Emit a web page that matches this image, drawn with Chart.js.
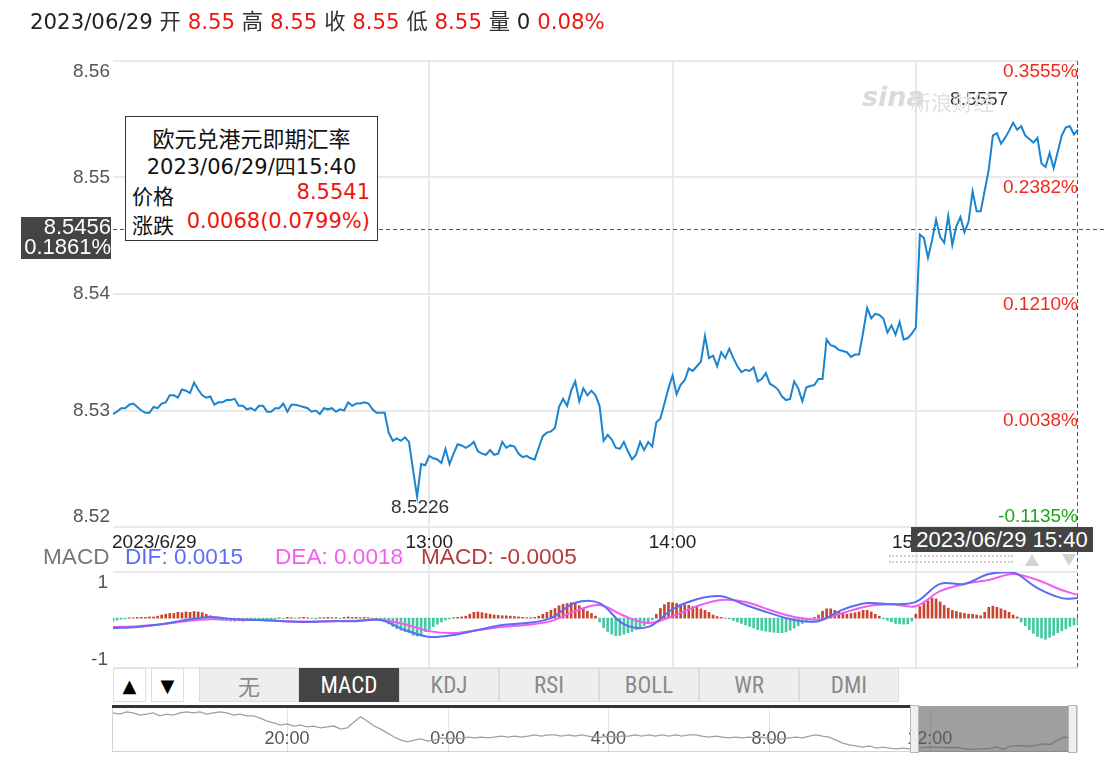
<!DOCTYPE html>
<html><head><meta charset="utf-8">
<script src="https://cdn.jsdelivr.net/npm/chart.js@4.4.0/dist/chart.umd.min.js"></script>
<style>
html,body{margin:0;padding:0;background:#fff;}
body{width:1106px;height:760px;position:relative;overflow:hidden;font-family:"DejaVu Sans","Noto Sans CJK SC",sans-serif;}
canvas{position:absolute;left:0;top:0;}
.abs{position:absolute;white-space:nowrap;}
#header{left:30px;top:9px;font-size:21.3px;line-height:26px;color:#222;}
#header .r{color:#f0140e;}
#header .c{color:#333;}
#tip{left:125px;top:116px;width:251px;height:123px;border:1px solid #333;background:#fff;font-size:21px;color:#111;z-index:5;}
#tip .t{position:absolute;left:0;width:100%;text-align:center;}
#tip .l{position:absolute;left:6px;}
#tip .v{position:absolute;right:7px;color:#f0140e;}
.darkbox{background:#444;color:#fff;font-family:"Liberation Sans",Arial,sans-serif;z-index:5;}
#curBox{left:21px;top:217px;width:90px;height:42px;font-size:22px;line-height:20px;text-align:right;}
#timeBox{left:911px;top:527px;width:182px;height:25px;font-size:22px;line-height:25px;text-align:center;}
.leg{top:544px;font-family:"Liberation Sans",Arial,sans-serif;font-size:22.6px;line-height:26px;z-index:4;}
#tabs{left:113px;top:668px;height:35px;z-index:4;font-family:"Liberation Sans Narrow","Roboto Condensed","Liberation Sans",sans-serif;}
.tb{position:absolute;top:0;height:34px;line-height:34px;text-align:center;box-sizing:border-box;}
.arrow{background:#fff;border:1px solid #ddd;font-size:18px;color:#000;width:33px;font-family:"DejaVu Sans",sans-serif;}
.tab{background:#eeeeee;border:1px solid #dcdcdc;width:100px;font-size:23px;color:#8a8a8a;}
.tab.sel{background:#444;color:#fff;border-color:#444;}
#navBox{left:112px;top:706px;width:964px;height:45px;border:1px solid #d3d3d3;border-top:none;}
#navTop{left:112px;top:705px;width:799px;height:3px;background:#333;z-index:4;}
#navSel{left:918px;top:706px;width:150px;height:46px;background:rgba(95,95,95,0.6);z-index:4;}
.handle{top:705px;width:7px;height:46px;background:#efefef;border:1px solid #b5b5b5;z-index:4;}
#wm1{left:862px;top:81px;font-family:"DejaVu Sans",sans-serif;font-style:italic;font-weight:bold;font-size:27px;color:#dadada;}
#wm2{left:910px;top:86px;font-size:21px;color:#e0e0e0;font-family:"Noto Sans CJK SC",sans-serif;}
.dots{left:889px;top:555px;width:124px;height:4px;border-top:2px dotted #d0d0d0;border-bottom:2px dotted #d0d0d0;}
.triU{left:1025px;top:554px;width:0;height:0;border-left:7px solid transparent;border-right:7px solid transparent;border-bottom:12px solid #d3d3d3;}
.triD{left:1062px;top:554px;width:0;height:0;border-left:7px solid transparent;border-right:7px solid transparent;border-top:12px solid #d3d3d3;}
</style>
</head><body>
<canvas id="mainC" width="1106" height="760"></canvas>
<canvas id="macdC" width="1106" height="760"></canvas>
<canvas id="navC" width="1106" height="760"></canvas>

<div id="header" class="abs">2023/06/29 <span class="c">开</span> <span class="r">8.55</span> <span class="c">高</span> <span class="r">8.55</span> <span class="c">收</span> <span class="r">8.55</span> <span class="c">低</span> <span class="r">8.55</span> <span class="c">量</span> 0 <span class="r">0.08%</span></div>
<div id="wm1" class="abs">sina</div>
<div id="wm2" class="abs">新浪财经</div>

<div id="tip" class="abs">
  <div class="t" style="top:4px;font-size:22px;">欧元兑港元即期汇率</div>
  <div class="t" style="top:33px;">2023/06/29/四15:40</div>
  <div class="l" style="top:63px;">价格</div><div class="v" style="top:63px;">8.5541</div>
  <div class="l" style="top:92px;">涨跌</div><div class="v" style="top:92px;">0.0068(0.0799%)</div>
</div>
<div id="curBox" class="abs darkbox">8.5456<br>0.1861%</div>
<div id="timeBox" class="abs darkbox">2023/06/29 15:40</div>
<div class="abs dots"></div>
<div class="abs triU"></div>
<div class="abs triD"></div>

<div class="abs leg" style="left:43px;color:#777">MACD</div>
<div class="abs leg" style="left:125px;color:#5b6cf6">DIF: 0.0015</div>
<div class="abs leg" style="left:275px;color:#f25cf0">DEA: 0.0018</div>
<div class="abs leg" style="left:421px;color:#b53a3a">MACD: -0.0005</div>

<div id="tabs" class="abs">
  <div class="tb arrow" style="left:0;">▲</div>
  <div class="tb arrow" style="left:38px;">▼</div>
  <div class="tb tab" style="left:86px;font-family:'Noto Sans CJK SC',sans-serif;font-size:22px;line-height:32px;">无</div>
  <div class="tb tab sel" style="left:186px;">MACD</div>
  <div class="tb tab" style="left:286px;">KDJ</div>
  <div class="tb tab" style="left:386px;">RSI</div>
  <div class="tb tab" style="left:486px;">BOLL</div>
  <div class="tb tab" style="left:586px;">WR</div>
  <div class="tb tab" style="left:686px;">DMI</div>
</div>
<div id="navBox" class="abs"></div>
<div id="navTop" class="abs"></div>
<div id="navSel" class="abs"></div>
<div class="abs handle" style="left:910px;"></div>
<div class="abs handle" style="left:1068px;"></div>

<script>
// ---------------- DATA ----------------
const startTime = '11:42';
const priceValues = [
8.5297,8.5299,8.5302,8.5302,8.5305,8.5306,8.5303,8.5300,8.5298,8.5298,
8.5303,8.5302,8.5306,8.5307,8.5313,8.5313,8.5311,8.5318,8.5317,8.5315,
8.5324,8.5318,8.5313,8.5311,8.5312,8.5305,8.5307,8.5307,8.5309,8.5309,
8.5310,8.5304,8.5304,8.5301,8.5302,8.5300,8.5304,8.5304,8.5299,8.5299,
8.5302,8.5302,8.5306,8.5299,8.5305,8.5305,8.5304,8.5303,8.5302,8.5299,
8.5300,8.5297,8.5302,8.5301,8.5302,8.5299,8.5301,8.5300,8.5307,8.5304,
8.5306,8.5306,8.5307,8.5306,8.5301,8.5298,8.5298,8.5298,8.5281,8.5274,
8.5276,8.5274,8.5277,8.5273,8.5249,8.5226,8.5254,8.5253,8.5261,8.5259,
8.5258,8.5255,8.5267,8.5254,8.5263,8.5271,8.5270,8.5268,8.5270,8.5273,
8.5265,8.5263,8.5262,8.5266,8.5262,8.5263,8.5273,8.5268,8.5270,8.5269,
8.5263,8.5260,8.5261,8.5259,8.5258,8.5268,8.5278,8.5281,8.5282,8.5285,
8.5303,8.5310,8.5304,8.5317,8.5325,8.5308,8.5319,8.5313,8.5317,8.5313,
8.5304,8.5274,8.5279,8.5275,8.5268,8.5267,8.5273,8.5265,8.5258,8.5262,
8.5273,8.5266,8.5273,8.5269,8.5290,8.5293,8.5306,8.5319,8.5330,8.5314,
8.5322,8.5326,8.5336,8.5334,8.5338,8.5342,8.5364,8.5345,8.5347,8.5338,
8.5350,8.5345,8.5353,8.5345,8.5338,8.5333,8.5335,8.5334,8.5337,8.5325,
8.5327,8.5332,8.5323,8.5321,8.5318,8.5312,8.5309,8.5310,8.5325,8.5319,
8.5308,8.5320,8.5321,8.5322,8.5327,8.5327,8.5361,8.5356,8.5355,8.5352,
8.5351,8.5350,8.5346,8.5348,8.5348,8.5367,8.5388,8.5379,8.5383,8.5382,
8.5379,8.5367,8.5373,8.5365,8.5376,8.5361,8.5362,8.5366,8.5371,8.5451,
8.5448,8.5431,8.5446,8.5464,8.5449,8.5444,8.5467,8.5442,8.5458,8.5466,
8.5453,8.5462,8.5488,8.5471,8.5471,8.5489,8.5507,8.5536,8.5538,8.5529,
8.5534,8.5540,8.5547,8.5541,8.5544,8.5536,8.5533,8.5530,8.5534,8.5512,
8.5509,8.5521,8.5508,8.5522,8.5536,8.5543,8.5544,8.5537,8.5541];

const yTickValues = [8.56, 8.55, 8.54, 8.53, 8.52];
const yTickLabels = ['8.56', '8.55', '8.54', '8.53', '8.52'];
const pctTickLabels = ['0.3555%', '0.2382%', '0.1210%', '0.0038%', '-0.1135%'];
const xTickIndex = [0, 78, 138, 198];
const xTickLabels = ['2023/6/29', '13:00', '14:00', '15:00'];
const refPrice = 8.5456;
const maxLabel = '8.5557';
const minLabel = '8.5226';

// MACD (indicator panel, normalised units as drawn)
const macdLineIndex = [0,6,12,18,24,30,36,42,48,54,60,66,72,78,84,90,96,102,108,114,120,126,132,138,144,150,156,162,168,174,180,186,192,198,204,210,216,222,228,234,238];
const difValues = [-0.26,-0.23,-0.16,-0.05,0.03,-0.03,-0.05,-0.08,-0.10,-0.08,-0.08,-0.05,-0.31,-0.49,-0.44,-0.31,-0.18,-0.13,0.00,0.40,0.39,-0.16,-0.23,0.23,0.49,0.57,0.34,0.13,-0.05,-0.08,0.22,0.39,0.36,0.42,0.89,0.89,1.15,1.19,0.78,0.52,0.52];
const deaValues = [-0.23,-0.21,-0.16,-0.08,-0.03,-0.04,-0.05,-0.08,-0.09,-0.08,-0.07,-0.05,-0.16,-0.34,-0.39,-0.31,-0.23,-0.18,-0.08,0.18,0.34,0.06,-0.13,0.05,0.31,0.47,0.42,0.21,0.03,-0.04,0.13,0.31,0.36,0.31,0.70,0.89,0.99,1.15,0.99,0.73,0.60];
const histValues = [
-0.08,-0.05,-0.03,-0.02,
0.01,0.01,0.02,0.02,0.02,0.03,0.03,
0.05,0.08,0.10,0.12,0.12,0.15,0.14,0.16,0.15,0.17,0.16,0.14,0.10,0.06,
-0.03,-0.05,-0.06,-0.07,-0.08,-0.08,-0.07,-0.08,-0.07,-0.06,-0.06,-0.05,-0.05,-0.04,-0.04,-0.03,
0.01,-0.01,0.02,0.01,-0.01,0.01,0.02,0.01,-0.01,-0.02,0.01,0.01,0.02,0.01,0.01,-0.01,0.02,0.03,0.02,0.02,0.01,0.02,0.01,-0.01,-0.02,-0.03,
-0.05,-0.15,-0.22,-0.28,-0.32,-0.35,-0.38,-0.45,-0.47,-0.42,-0.35,-0.30,-0.22,-0.16,-0.10,-0.05,
-0.02,0.01,0.02,0.03,
0.05,0.10,0.15,0.16,0.14,0.12,0.10,0.08,0.07,0.06,0.06,0.05,0.04,0.03,
0.02,0.01,0.01,0.02,
0.05,0.10,0.15,0.20,0.25,0.32,0.36,0.38,0.40,0.38,0.32,0.25,0.18,0.12,0.05,
-0.10,-0.25,-0.35,-0.42,-0.46,-0.45,-0.42,-0.38,-0.35,-0.30,-0.25,-0.20,-0.12,-0.05,
0.10,0.25,0.35,0.41,0.40,0.38,0.36,0.35,0.33,0.30,0.28,0.24,0.20,0.15,0.08,0.04,0.02,
0.00,-0.02,-0.06,-0.10,-0.14,-0.18,-0.22,-0.26,-0.30,-0.32,-0.34,-0.36,-0.37,-0.38,-0.38,-0.36,-0.32,-0.26,-0.20,-0.14,-0.08,-0.03,
0.02,0.08,0.18,0.24,0.24,0.20,0.16,0.12,0.10,0.12,0.14,0.16,0.20,0.20,0.16,0.10,0.05,
-0.02,-0.06,-0.10,-0.14,-0.15,-0.16,-0.15,-0.08,
0.10,0.30,0.38,0.45,0.52,0.50,0.42,0.33,0.26,0.20,0.17,0.14,0.12,0.10,0.10,0.08,0.06,0.15,0.28,0.31,0.28,0.24,0.20,0.15,0.08,0.03,
-0.10,-0.20,-0.30,-0.40,-0.48,-0.52,-0.55,-0.50,-0.45,-0.38,-0.33,-0.28,-0.22,-0.18,-0.15];
const macdTickValues = [1, -1];
const macdTickLabels = ['1', '-1'];

// Navigator (24h overview, 10-minute steps from 15:40 of the previous day)
const navStart = '15:40';
const navValues = [
8.609,8.606,8.611,8.609,8.604,8.606,8.609,8.602,8.606,8.604,8.609,8.611,8.609,8.611,8.606,8.609,8.611,8.609,8.604,8.606,8.602,
8.602,8.597,8.590,8.586,8.581,8.584,
8.579,8.581,8.577,8.579,8.575,8.577,8.579,8.572,8.575,
8.588,8.600,8.590,8.579,
8.572,8.563,8.554,8.547,8.543,
8.547,8.550,8.545,8.547,8.552,8.550,
8.552,8.550,8.554,8.552,8.554,8.552,8.554,8.556,8.554,8.556,8.554,8.556,8.559,8.556,8.559,8.559,8.556,8.559,8.556,8.559,
8.556,8.554,8.554,8.556,8.554,8.556,8.556,8.559,8.556,8.559,8.556,8.559,8.556,8.559,8.556,8.559,8.559,8.556,8.554,8.556,8.554,8.552,8.554,8.552,8.554,
8.552,8.554,8.550,8.547,8.550,8.552,8.554,8.552,8.556,8.559,8.556,
8.554,8.547,8.540,8.536,8.534,8.531,8.534,8.529,8.531,
8.529,8.527,8.529,8.527,8.529,
8.5298,8.5317,8.5309,8.5299,8.5302,8.5307,8.5281,8.5261,8.5270,8.5270,8.5282,8.5317,8.5258,8.5330,8.5347,8.5337,8.5325,8.5355,8.5383,8.5371,8.5458,8.5538,8.5534,8.5541];
const navTickIndex = [26, 50, 74, 98, 122];
const navTickLabels = ['20:00', '0:00', '4:00', '8:00', '12:00'];

// ---------------- helpers ----------------
function timeSeries(start, n, step) {
  const [h, m] = start.split(':').map(Number);
  const out = [];
  for (let i = 0; i < n; i++) {
    const t = (h * 60 + m + i * step) % 1440;
    out.push(Math.floor(t / 60) + ':' + String(t % 60).padStart(2, '0'));
  }
  return out;
}
const priceTimes = timeSeries(startTime, priceValues.length, 1);
const navTimes = timeSeries(navStart, navValues.length, 10);
const difSeries = priceTimes.map(() => null);
const deaSeries = priceTimes.map(() => null);
macdLineIndex.forEach((k, j) => { difSeries[k] = difValues[j]; deaSeries[k] = deaValues[j]; });

Chart.defaults.animation = false;
Chart.defaults.responsive = false;
Chart.defaults.devicePixelRatio = 1;
Chart.defaults.plugins.legend.display = false;
Chart.defaults.plugins.tooltip.enabled = false;
Chart.defaults.events = [];

const LAT = '"Liberation Sans", Arial, sans-serif';
const zeroW = s => { s.width = 0; };
const zeroH = s => { s.height = 0; };

// ---------------- main chart ----------------
const mainDecor = {
  id: 'mainDecor',
  beforeDatasetsDraw(chart) {
    const { ctx, chartArea: a, scales: { x } } = chart;
    ctx.save();
    ctx.strokeStyle = '#e9e9e9';
    ctx.lineWidth = 2;
    xTickIndex.slice(1).forEach(i => {
      const px = Math.round(x.getPixelForValue(i));
      ctx.beginPath(); ctx.moveTo(px, a.top); ctx.lineTo(px, 668); ctx.stroke();
    });
    ctx.restore();
  },
  afterDraw(chart) {
    const { ctx, chartArea: a, scales: { x, y } } = chart;
    ctx.save();
    ctx.font = '19px ' + LAT;
    ctx.fillStyle = '#555';
    ctx.textAlign = 'right';
    yTickValues.forEach((v, i) => {
      const py = y.getPixelForValue(v);
      if (i === 0) { ctx.textBaseline = 'top'; ctx.fillText(yTickLabels[i], 110, py + 1); }
      else if (i === yTickValues.length - 1) { ctx.textBaseline = 'bottom'; ctx.fillText(yTickLabels[i], 110, py - 1); }
      else { ctx.textBaseline = 'middle'; ctx.fillText(yTickLabels[i], 110, py); }
    });
    yTickValues.forEach((v, i) => {
      const py = y.getPixelForValue(v);
      const neg = pctTickLabels[i].startsWith('-');
      ctx.fillStyle = neg ? '#1aa51a' : '#ee2a20';
      if (i === yTickValues.length - 1) { ctx.textBaseline = 'bottom'; ctx.fillText(pctTickLabels[i], a.right, py - 1); }
      else { ctx.textBaseline = 'top'; ctx.fillText(pctTickLabels[i], a.right, py + 1); }
    });
    ctx.fillStyle = '#222';
    ctx.textBaseline = 'middle';
    xTickIndex.forEach((k, i) => {
      const px = x.getPixelForValue(k);
      ctx.textAlign = i === 0 ? 'left' : 'center';
      ctx.fillText(xTickLabels[i], i === 0 ? a.left - 1 : px, 543);
    });
    const ry = Math.round(y.getPixelForValue(refPrice)) + 0.5;
    ctx.strokeStyle = '#555';
    ctx.lineWidth = 1;
    ctx.setLineDash([4, 3]);
    ctx.beginPath(); ctx.moveTo(a.left, ry); ctx.lineTo(1106, ry); ctx.stroke();
    const lx = Math.round(x.getPixelForValue(priceValues.length - 1)) - 0.5;
    ctx.beginPath(); ctx.moveTo(lx, a.top); ctx.lineTo(lx, 668); ctx.stroke();
    ctx.setLineDash([]);
    let iMax = 0, iMin = 0;
    priceValues.forEach((v, i) => { if (v > priceValues[iMax]) iMax = i; if (v < priceValues[iMin]) iMin = i; });
    ctx.fillStyle = '#333';
    ctx.textAlign = 'center';
    ctx.textBaseline = 'middle';
    ctx.fillText(maxLabel, x.getPixelForValue(iMax) - 34, y.getPixelForValue(priceValues[iMax]) - 23);
    ctx.fillText(minLabel, x.getPixelForValue(iMin) + 3, y.getPixelForValue(priceValues[iMin]) + 11);
    ctx.restore();
  }
};

new Chart(document.getElementById('mainC'), {
  type: 'line',
  data: {
    labels: priceTimes,
    datasets: [{
      data: priceValues,
      borderColor: '#1a84d0',
      borderWidth: 2,
      pointRadius: 0,
      tension: 0,
      fill: false
    }]
  },
  options: {
    layout: { padding: { left: 113, right: 28, top: 61, bottom: 233 } },
    scales: {
      x: { type: 'category', offset: false, ticks: { display: false }, grid: { display: false }, border: { display: false }, afterFit: zeroH },
      y: { min: 8.52, max: 8.56, ticks: { display: false, stepSize: 0.01 },
           grid: { color: '#e9e9e9', lineWidth: 2, drawTicks: false }, border: { display: false }, afterFit: zeroW }
    }
  },
  plugins: [mainDecor]
});

// ---------------- MACD chart ----------------
const macdDecor = {
  id: 'macdDecor',
  beforeDatasetsDraw(chart) {
    const { ctx, chartArea: a, scales: { y } } = chart;
    ctx.save();
    ctx.strokeStyle = '#e9e9e9';
    ctx.lineWidth = 2;
    [a.top, a.bottom].forEach(py => { ctx.beginPath(); ctx.moveTo(a.left, py); ctx.lineTo(a.right, py); ctx.stroke(); });
    ctx.strokeStyle = '#f2f2f2';
    ctx.lineWidth = 1;
    const zy = Math.round(y.getPixelForValue(0)) + 0.5;
    ctx.beginPath(); ctx.moveTo(a.left, zy); ctx.lineTo(a.right, zy); ctx.stroke();
    ctx.fillStyle = '#555';
    ctx.font = '19px ' + LAT;
    ctx.textAlign = 'right';
    ctx.textBaseline = 'middle';
    macdTickValues.forEach((v, i) => ctx.fillText(macdTickLabels[i], 108, y.getPixelForValue(v) + 3));
    ctx.restore();
  }
};

new Chart(document.getElementById('macdC'), {
  type: 'bar',
  data: {
    labels: priceTimes,
    datasets: [
      { type: 'line', data: difSeries, borderColor: '#5b6cf6', borderWidth: 2, pointRadius: 0, tension: 0.35, spanGaps: true, order: 1 },
      { type: 'line', data: deaSeries, borderColor: '#f25cf0', borderWidth: 2, pointRadius: 0, tension: 0.35, spanGaps: true, order: 2 },
      { type: 'bar', data: histValues, backgroundColor: histValues.map(v => v >= 0 ? '#c8442c' : '#45c8a2'),
        barThickness: 2, order: 3 }
    ]
  },
  options: {
    layout: { padding: { left: 113, right: 28, top: 572, bottom: 92 } },
    scales: {
      x: { type: 'category', offset: false, ticks: { display: false }, grid: { display: false }, border: { display: false }, afterFit: zeroH },
      y: { min: -1.3, max: 1.2, ticks: { display: false }, grid: { display: false }, border: { display: false }, afterFit: zeroW }
    }
  },
  plugins: [macdDecor]
});

// ---------------- navigator ----------------
const navDecor = {
  id: 'navDecor',
  beforeDatasetsDraw(chart) {
    const { ctx, chartArea: a, scales: { x } } = chart;
    ctx.save();
    ctx.strokeStyle = '#e3e3e3';
    ctx.lineWidth = 1;
    ctx.font = '18px ' + LAT;
    ctx.textAlign = 'center';
    ctx.textBaseline = 'middle';
    navTickIndex.forEach((k) => {
      const px = Math.round(x.getPixelForValue(k)) + 0.5;
      ctx.beginPath(); ctx.moveTo(px, a.top); ctx.lineTo(px, a.bottom); ctx.stroke();
    });
    ctx.fillStyle = '#555';
    navTickIndex.forEach((k, i) => ctx.fillText(navTickLabels[i], x.getPixelForValue(k), 739));
    ctx.restore();
  }
};

new Chart(document.getElementById('navC'), {
  type: 'line',
  data: {
    labels: navTimes,
    datasets: [{ data: navValues, borderColor: '#a0a0a0', borderWidth: 1.3, pointRadius: 0, tension: 0 }]
  },
  options: {
    layout: { padding: { left: 113, right: 29, top: 708, bottom: 8 } },
    scales: {
      x: { type: 'category', offset: false, ticks: { display: false }, grid: { display: false }, border: { display: false }, afterFit: zeroH },
      y: { min: 8.52, max: 8.62, ticks: { display: false }, grid: { display: false }, border: { display: false }, afterFit: zeroW }
    }
  },
  plugins: [navDecor]
});
</script>
</body></html>
